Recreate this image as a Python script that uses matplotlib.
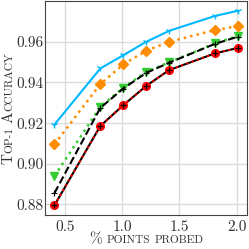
import matplotlib
matplotlib.use("Agg")
import matplotlib.pyplot as plt
from matplotlib.transforms import IdentityTransform

plt.rcParams['font.family'] = 'serif'
plt.rcParams['font.serif'] = ['cmr10']
plt.rcParams['mathtext.fontset'] = 'cm'
plt.rcParams['axes.formatter.use_mathtext'] = True

# data
pct = [0.41, 0.81, 1.01, 1.21, 1.41, 1.81, 2.01]
acc_cyan = [0.9193, 0.9469, 0.9534, 0.9600, 0.9654, 0.9727, 0.9753]
acc_orange = [0.9096, 0.9392, 0.9489, 0.9556, 0.9600, 0.9658, 0.9677]
acc_green = [0.8940, 0.9280, 0.9375, 0.9452, 0.9499, 0.9592, 0.9630]
acc_black = [0.8856, 0.9275, 0.9370, 0.9447, 0.9497, 0.9590, 0.9625]
acc_red = [0.8796, 0.9186, 0.9288, 0.9383, 0.9461, 0.9543, 0.9570]
xticks = [0.5, 1.0, 1.5, 2.0]
yticks = [0.88, 0.90, 0.92, 0.94, 0.96]

fig = plt.figure(figsize=(2.49, 2.49), dpi=100)
ax = fig.add_axes([45.3/249, 1-215/249, (247-45.3)/249, 214/249])

ax.plot(pct, acc_cyan, color='#00b8ff', lw=1.5, marker='1', ms=5, zorder=3)
ax.plot(pct, acc_orange, color='#ff8c00', lw=1.8, ls=':', marker='D', ms=5.5, zorder=3)
ax.plot(pct, acc_green, color='#33cc33', lw=1.8, ls=':', marker='v', ms=5.5, zorder=3)
ax.plot(pct, acc_black, color='black', lw=1.5, ls='--', marker='+', ms=4.5, mew=0.8, zorder=4)
ax.plot(pct, acc_red, color='black', lw=1.5, zorder=3)
ax.plot(pct, acc_red, color='red', lw=1.5, ls=':', marker='o', ms=5.5, zorder=4)
ax.plot(pct, acc_red, color='black', lw=0, marker='+', ms=5, mew=0.9, zorder=5)

ax.set_xticks(xticks)
ax.set_yticks(yticks)
ax.set_xticklabels(['%.1f' % t for t in xticks])
ax.set_yticklabels(['%.2f' % t for t in yticks])
ax.grid(True, color='#dcdcdc', lw=1)
ax.set_axisbelow(True)
ax.tick_params(length=0, labelsize=11, colors='#333333')
ax.tick_params(axis='x', pad=4)
ax.tick_params(axis='y', pad=1.5)
for s in ax.spines.values():
    s.set_color('#444444')
    s.set_linewidth(0.8)


def small_caps(parts, x, y, vertical):
    # parts: list of (text, size) or a number = gap in pixels
    r = fig.canvas.get_renderer()
    items = []
    for p in parts:
        if not isinstance(p, tuple):
            items.append(p)
            continue
        t = fig.text(0, 0, p[0], fontsize=p[1], color='#333333',
                     rotation=90 if vertical else 0, rotation_mode='anchor',
                     ha='left', va='baseline', transform=IdentityTransform())
        bb = t.get_window_extent(r)
        items.append((t, bb.height if vertical else bb.width))
    total = sum(it if not isinstance(it, tuple) else it[1] for it in items)
    pos = (y if vertical else x) - total / 2
    for it in items:
        if not isinstance(it, tuple):
            pos += it
            continue
        t, w = it
        t.set_position((x, pos) if vertical else (pos, y))
        pos += w


small_caps([('%', 11), 5.5, ('POINTS', 8.2), 4, ('PROBED', 8.2)], 146, 5.7, False)
small_caps([('T', 11), ('OP-1', 8.2), 4, ('A', 11), ('CCURACY', 8.2)], 12.5, 141, True)

fig.savefig('out.png', dpi=100)
